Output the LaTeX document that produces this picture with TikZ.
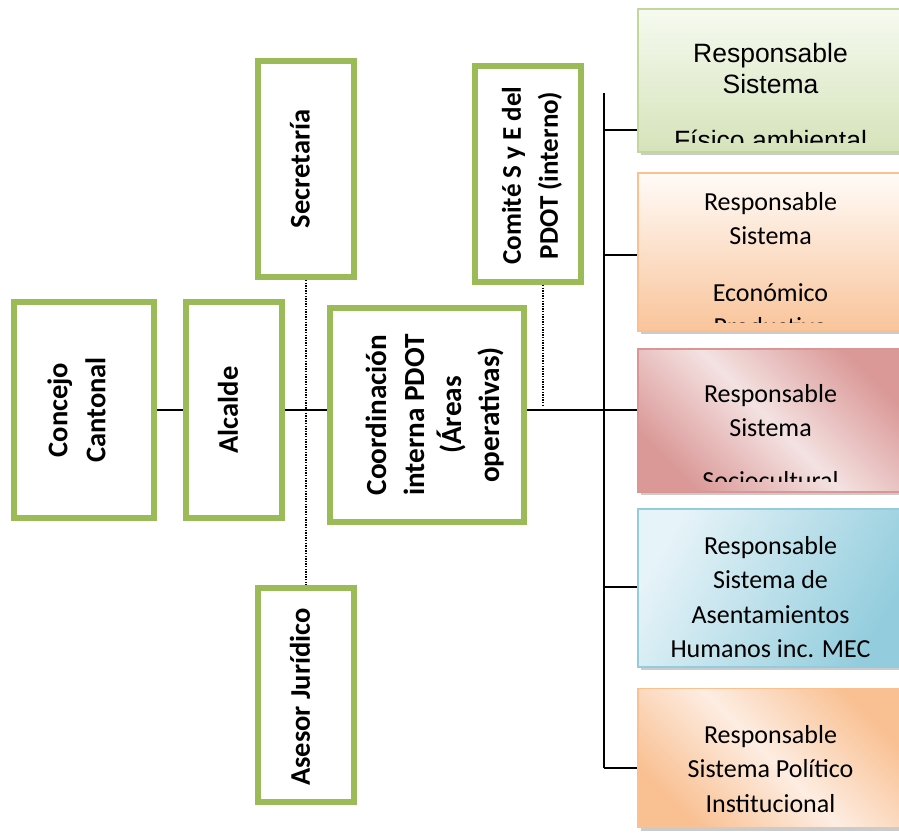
\documentclass[tikz,border=0pt]{standalone}
\usepackage{fontspec}
\setmainfont{Carlito}
\newfontfamily\arialf{Liberation Sans}
\usetikzlibrary{shadows,calc}
\definecolor{gbord}{HTML}{9BBB59}
\definecolor{bAbord}{HTML}{C3D69B}
\definecolor{bAtop}{HTML}{F6FAF0}
\definecolor{bAbot}{HTML}{D5E3BA}
\definecolor{bBbord}{HTML}{FAC090}
\definecolor{bBtop}{HTML}{FFFBF8}
\definecolor{bBbot}{HTML}{F9C49A}
\definecolor{bCbord}{HTML}{D99694}
\definecolor{bCdark}{HTML}{DA9997}
\definecolor{bClight}{HTML}{F4E2E2}
\definecolor{bDbord}{HTML}{93CDDD}
\definecolor{bDdark}{HTML}{93CDDD}
\definecolor{bDlight}{HTML}{E6F3F8}
\definecolor{bEbord}{HTML}{FAC090}
\definecolor{bEdark}{HTML}{F9C092}
\definecolor{bElight}{HTML}{FDEDE2}
\begin{document}
\begin{tikzpicture}[x=1pt,y=-1pt,
  gbox/.style={draw=gbord, line width=6pt, fill=white, inner sep=0pt},
  gtext/.style={rotate=90, align=center, inner sep=0pt, font=\bfseries\fontsize{28.5}{38}\selectfont},
  rbox/.style={line width=1.5pt, inner sep=0pt, minimum width=265pt,
    drop shadow={shadow xshift=2.5pt, shadow yshift=-3pt, fill=black!40}},
  rtext/.style={align=center, anchor=north, inner sep=0pt, font=\fontsize{26}{34.5}\selectfont},
  conn/.style={line width=1.1pt, black},
  dotl/.style={line width=1.3pt, black, dash pattern=on 1.3pt off 1.3pt}
]
\fill[white] (0,0) rectangle (899,833);
\useasboundingbox (0,0) rectangle (899,833);

% green boxes
\node[gbox, minimum width=140pt, minimum height=216pt] (concejo) at (84,410) {};
\node[gtext] (concejoT) at (76.5,410) {Concejo\\Cantonal};
\node[gbox, minimum width=96pt, minimum height=216pt] (alcalde) at (234,410) {};
\node[gtext] (alcaldeT) at (228,410) {Alcalde};
\node[gbox, minimum width=194pt, minimum height=214pt] (coord) at (427,415) {};
\node[gtext, font=\bfseries\fontsize{29.2}{37.5}\selectfont] (coordT) at (435,415) {Coordinación\\interna PDOT\\(Áreas\\operativas)};
\node[gbox, minimum width=96pt, minimum height=216pt] (secre) at (306,169) {};
\node[gtext] (secreT) at (300,169) {Secretaría};
\node[gbox, minimum width=96pt, minimum height=214pt] (asesor) at (306,695) {};
\node[gtext] (asesorT) at (300,697) {Asesor Jurídico};
\node[gbox, minimum width=106pt, minimum height=216pt] (comite) at (528,174) {};
\node[gtext, font=\bfseries\fontsize{27}{37}\selectfont] (comiteT) at (532,175.5) {Comité S y E del\\PDOT (interno)};

% right boxes
\node[rbox, draw=bAbord, top color=bAtop, bottom color=bAbot, minimum height=143pt] (sisA) at (770.5,80.5) {};
\node[rbox, draw=bBbord, top color=bBtop, bottom color=bBbot, minimum height=158pt] (sisB) at (770.5,252) {};
\node[rbox, draw=bCbord, left color=bCdark, right color=bCdark, middle color=bClight, shading angle=135, minimum height=143pt] (sisC) at (770.5,420.5) {};
\node[rbox, draw=bDbord, left color=bDlight, right color=bDdark, shading angle=60, minimum height=158pt] (sisD) at (770.5,588) {};
\node[rbox, draw=bEbord, left color=bEdark, right color=bEdark, middle color=bElight, shading angle=135, minimum height=139pt] (sisE) at (770.5,758) {};

\begin{scope}
  \clip (640,10) rectangle (902,142);
  \node[rtext, font=\arialf\fontsize{26.5}{31}\selectfont] (sisAT) at (770.5,43) {Responsable\\Sistema\\[25pt]Físico ambiental};
\end{scope}
\begin{scope}
  \clip (640,174) rectangle (902,322);
  \node[rtext] (sisBT) at (770.5,192) {Responsable\\Sistema\\[22pt]Económico\\Productivo};
\end{scope}
\begin{scope}
  \clip (640,350) rectangle (902,481);
  \node[rtext] (sisCT) at (770.5,384) {Responsable\\Sistema\\[18pt]Sociocultural};
\end{scope}
\node[rtext] (sisDT) at (770.5,536) {Responsable\\Sistema de\\Asentamientos\\Humanos inc. MEC};
\node[rtext] (sisET) at (770.5,725) {Responsable\\Sistema Político\\Institucional};

% connectors
\draw[conn] (concejo.east) -- (alcalde.west);
\draw[conn] (alcalde.east) -- (alcalde.east -| coord.west);
\draw[dotl] (secre.south) -- (asesor.north);
\coordinate (cdot) at (543,407);
\draw[dotl] (comite.south -| cdot) -- (cdot);
\coordinate (bustop) at (604,93);
\coordinate (busbot) at (604,768);
\draw[conn] (bustop) -- (busbot);
\draw[conn] (alcalde.east -| coord.east) -- (alcalde.east -| bustop);
\coordinate (brA) at (604,130);
\coordinate (brB) at (604,255);
\coordinate (brD) at (604,587);
\draw[conn] (brA) -- (brA -| sisA.west);
\draw[conn] (brB) -- (brB -| sisB.west);
\draw[conn] (alcalde.east -| bustop) -- (alcalde.east -| sisC.west);
\draw[conn] (brD) -- (brD -| sisD.west);
\draw[conn] (busbot) -- (busbot -| sisE.west);
\end{tikzpicture}
\end{document}
